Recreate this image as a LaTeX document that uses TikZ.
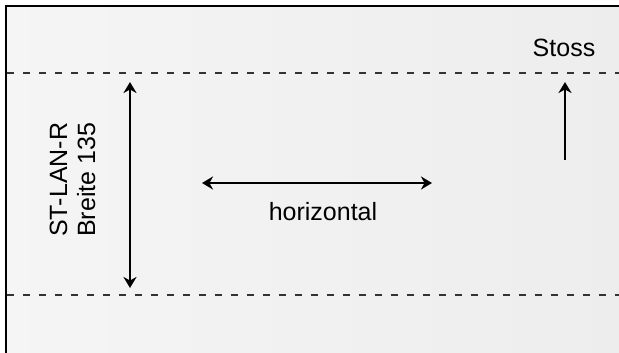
\documentclass[tikz,border=0pt]{standalone}
\usepackage{fontspec}
\setmainfont{Liberation Sans}
\usetikzlibrary{arrows.meta}
\tikzset{
	pfeil/.style={line width=1.9pt,-{Stealth[length=11pt,width=13pt,inset=3.5pt]}},
	doppelpfeil/.style={line width=1.9pt,{Stealth[length=11pt,width=13pt,inset=3.5pt]}-{Stealth[length=11pt,width=13pt,inset=3.5pt]}},
	kante/.style={dash pattern=on 7pt off 9pt,line width=1.4pt,draw=black!80},
	beschriftung/.style={inner sep=0pt,font=\fontsize{25}{28}\selectfont}
}
\begin{document}
\begin{tikzpicture}[x=1pt,y=1pt]
				\useasboundingbox (0,0) rectangle (619,353);
				\shade[left color=black!4,right color=black!7] (6,0) rectangle (619,347);
				\draw[line width=2.6pt] (6,0) -- (6,347) -- (619,347);
				
				% Kanten der Strasse
				\draw[kante] (7,280) -- (619,280);
				\draw[kante] (7,58) -- (619,58);
				
				\coordinate (B1) at (130,271);
				\coordinate (B2) at (130,65);
				\coordinate (H1) at (202,170);
				\coordinate (H2) at (432,170);
				\coordinate (S1) at (565,193);
				\coordinate (S2) at (565,271);
				
				\draw[doppelpfeil] (B1) -- (B2);
				\draw[doppelpfeil] (H1) -- (H2);
				\draw[pfeil] (S1) -- (S2);
				
				\draw (67,116) node[beschriftung,rotate=90,anchor=base west] (typ) {ST-LAN-R};
				\draw (95,116) node[beschriftung,rotate=90,anchor=base west] (breite) {Breite 135};
				\draw (323,132) node[beschriftung,anchor=base] (horizontal) {horizontal};
				\draw (564,296) node[beschriftung,anchor=base] (stoss) {Stoss};
			\end{tikzpicture}
\end{document}
